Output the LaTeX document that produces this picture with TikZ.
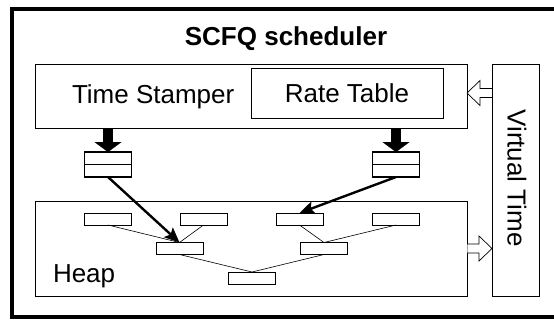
\documentclass[tikz,border=0pt]{standalone}
\usepackage{fontspec}
\setmainfont{Liberation Sans}
\usetikzlibrary{arrows.meta}
\usetikzlibrary{positioning}
\tikzset{every node/.style={inner sep=0pt, outer sep=0pt},
	lbl/.style={font=\fontsize{26}{30}\selectfont},
	title/.style={font=\fontsize{26}{30}\selectfont\bfseries},
	block/.style={draw, line width=0.8pt, anchor=north west},
	frame/.style={draw, line width=4pt, anchor=north west},
	queue/.style={draw, line width=1.1pt, minimum width=47pt, minimum height=25pt},
	hnode/.style={draw, line width=1pt, minimum width=47pt, minimum height=12pt},
	tree/.style={line width=0.6pt},
	push/.style={line width=2.4pt, -{Stealth[length=15pt, width=13pt, inset=3pt]}},
	feed/.style={line width=10pt, -{Triangle[length=10pt, width=27pt, line width=0.01pt]}},
	hollowarrow/.pic={
		\fill[white] (0.4,-4.5) -- (12,-4.5) -- (12,-12.5) -- (25,0) -- (12,12.5) -- (12,4.5) -- (0.4,4.5) -- cycle;
		\draw[line width=0.7pt, line join=miter] (0,-4.5) -- (12,-4.5) -- (12,-12.5) -- (25,0) -- (12,12.5) -- (12,4.5) -- (0,4.5);}
}
\begin{document}
\begin{tikzpicture}[x=1pt, y=-1pt]
	\useasboundingbox (0,0) rectangle (554,322);
	\node[frame, minimum width=560pt, minimum height=308pt] (sched) at (12,9) {};
	\node[title, anchor=base] (schedtxt) at (286,45) {SCFQ scheduler};
	\node[block, minimum width=432pt, minimum height=64pt] (stamper) at (35,64) {};
	\node[lbl, anchor=base west] (stamptxt) at (72,103) {Time Stamper};
	\node[block, lbl, minimum width=192pt, minimum height=50pt] (rate) at (251,68) {Rate Table};
	\node[block, minimum width=432pt, minimum height=95pt] (heap) at (35,201) {};
	\node[lbl, anchor=base west] (heaptxt) at (53,282) {Heap};
	\node[block, minimum width=47pt, minimum height=232pt] (vt) at (492,64) {};
	\node[lbl, rotate=-90] (vttxt) at (517,178) {Virtual Time};
	\pic[rotate=180] at (vt.west |- rate.center) {hollowarrow};
	\pic at (heap.east) {hollowarrow};
	\node[queue] (q1) at (108,164.5) {};
	\node[queue] (q2) at (396,164.5) {};
	\draw[line width=1.1pt] (q1.west) -- (q1.east);
	\draw[line width=1.1pt] (q2.west) -- (q2.east);
	\foreach \n/\x/\y in {h1/108/219, h2/203.5/219, h3/299.5/219, h4/396/219,
		h5/179.5/248.5, h6/324/248.5, h7/252/278}
		\node[hnode] (\n) at (\x,\y) {};
	\foreach \a/\b in {h1/h5, h2/h5, h3/h6, h4/h6, h5/h7, h6/h7}
		\draw[tree] (\a.south) -- (\b.north);
	\draw[feed] (stamper.south -| q1) -- (q1.north);
	\draw[feed] (stamper.south -| q2) -- (q2.north);
	\draw[push] (q1.south) -- (h5.north);
	\draw[push] (q2.south) -- (h3.north);
\end{tikzpicture}
\end{document}
